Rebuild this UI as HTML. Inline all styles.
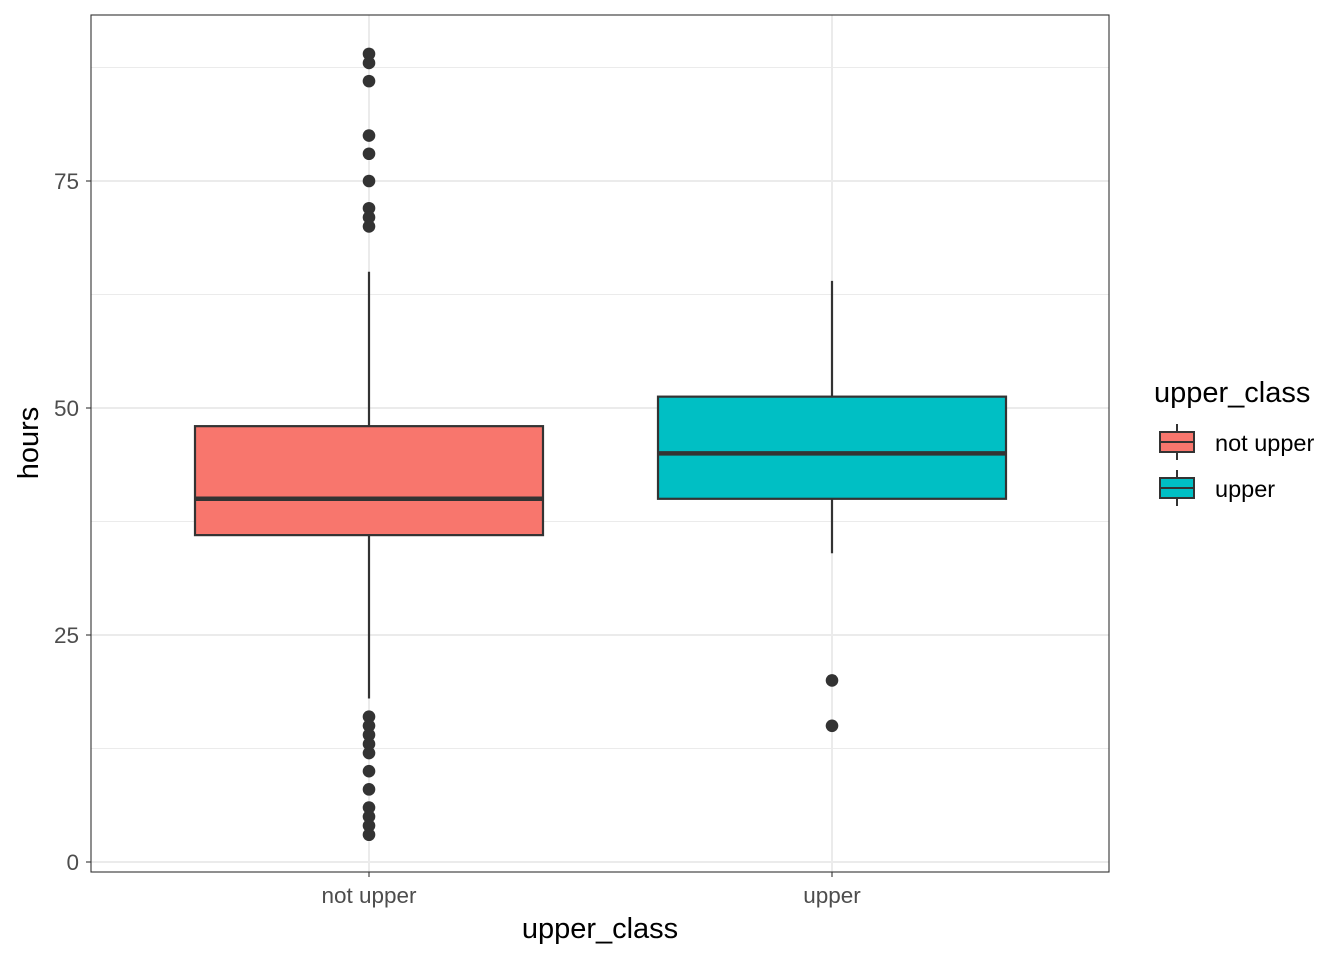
<!DOCTYPE html>
<html><head><meta charset="utf-8"><style>
body{margin:0;background:#fff;font-family:"Liberation Sans",sans-serif}
</style></head><body>
<svg id="chart" width="1344" height="960" xmlns="http://www.w3.org/2000/svg" style="position:absolute;left:0;top:0"></svg>
<script>
const categories = ["not upper", "upper"];
const fills = ["#F8766D", "#00BFC4"];
const q1 = [36, 40];
const medians = [40, 45];
const q3 = [48, 51.25];
const whiskerLow = [18, 34];
const whiskerHigh = [65, 64];
const outliers = [[89, 88, 86, 80, 78, 75, 72, 71, 70, 16, 15, 14, 13, 12, 10, 8, 6, 5, 4, 3], [20, 15]];
const yTicks = [0, 25, 50, 75];
const yMinor = [12.5, 37.5, 62.5, 87.5];

const svg = document.getElementById('chart');
const NS = 'http://www.w3.org/2000/svg';
const P = {l:91, r:1109, t:15, b:872};
const y = v => 862 - v * 9.08;
const xc = i => 369 + i * 463;
const halfW = 174;
function mk(tag, attrs, parent){const e=document.createElementNS(NS,tag);for(const k in attrs)e.setAttribute(k,attrs[k]);(parent||svg).appendChild(e);return e;}

mk('rect',{x:P.l,y:P.t,width:P.r-P.l,height:P.b-P.t,fill:'#fff'});
yMinor.forEach(v=>{const l=mk('line',{x1:P.l,x2:P.r,y1:y(v),y2:y(v),stroke:'#EBEBEB','stroke-width':1});

});
yTicks.forEach(v=>{const l=mk('line',{x1:P.l,x2:P.r,y1:y(v),y2:y(v),stroke:'#EBEBEB','stroke-width':2});


const t=mk('line',{x1:P.l-5,x2:P.l,y1:y(v),y2:y(v),stroke:'#333','stroke-width':1.1});


const tx=mk('text',{x:P.l-12,y:y(v)+8,'text-anchor':'end','font-size':22.5,fill:'#4D4D4D'});tx.textContent=v;

});
categories.forEach((c,i)=>{const x=xc(i);
const g=mk('line',{x1:x,x2:x,y1:P.t,y2:P.b,stroke:'#EBEBEB','stroke-width':2});


const t=mk('line',{x1:x,x2:x,y1:P.b,y2:P.b+5,stroke:'#333','stroke-width':1.1});


const tx=mk('text',{x:x,y:P.b+31,'text-anchor':'middle','font-size':22.5,fill:'#4D4D4D'});tx.textContent=c;

});

categories.forEach((c,i)=>{const x=xc(i);
const g=mk('g',{});


mk('line',{x1:x,x2:x,y1:y(whiskerHigh[i]),y2:y(q3[i]),stroke:'#333','stroke-width':2.2},g);
mk('line',{x1:x,x2:x,y1:y(q1[i]),y2:y(whiskerLow[i]),stroke:'#333','stroke-width':2.2},g);
mk('rect',{x:x-halfW,y:y(q3[i]),width:2*halfW,height:y(q1[i])-y(q3[i]),fill:fills[i],stroke:'#333','stroke-width':2.2},g);
mk('line',{x1:x-halfW,x2:x+halfW,y1:y(medians[i]),y2:y(medians[i]),stroke:'#333','stroke-width':4.5},g);
outliers[i].forEach(v=>{const p=mk('circle',{cx:x,cy:y(v),r:6.3,fill:'#333'},g);

});});

mk('rect',{x:P.l,y:P.t,width:P.r-P.l,height:P.b-P.t,fill:'none',stroke:'#333','stroke-width':1.1});

const xt=mk('text',{x:600,y:938,'text-anchor':'middle','font-size':29,fill:'#000'});xt.textContent='upper_class';


const yt=mk('text',{x:0,y:0,'text-anchor':'middle','font-size':29,fill:'#000',transform:'translate(38,443) rotate(-90)'});yt.textContent='hours';


const lt=mk('text',{x:1154,y:402,'font-size':29,fill:'#000'});lt.textContent='upper_class';


</script>
<svg width="190" height="100" style="position:absolute;left:1154px;top:420px">
<g><line x1="23" x2="23" y1="4" y2="40" stroke="#333" stroke-width="2"/><rect x="6" y="12" width="34" height="20" fill="#F8766D" stroke="#333" stroke-width="2"/><line x1="6" x2="40" y1="22" y2="22" stroke="#333" stroke-width="2"/>
<text x="61" y="31" font-size="23.5" font-family="Liberation Sans">not upper</text></g>
<g><line x1="23" x2="23" y1="50" y2="86" stroke="#333" stroke-width="2"/><rect x="6" y="58" width="34" height="20" fill="#00BFC4" stroke="#333" stroke-width="2"/><line x1="6" x2="40" y1="68" y2="68" stroke="#333" stroke-width="2"/>
<text x="61" y="77" font-size="23.5" font-family="Liberation Sans">upper</text></g>
</svg>
</body></html>
